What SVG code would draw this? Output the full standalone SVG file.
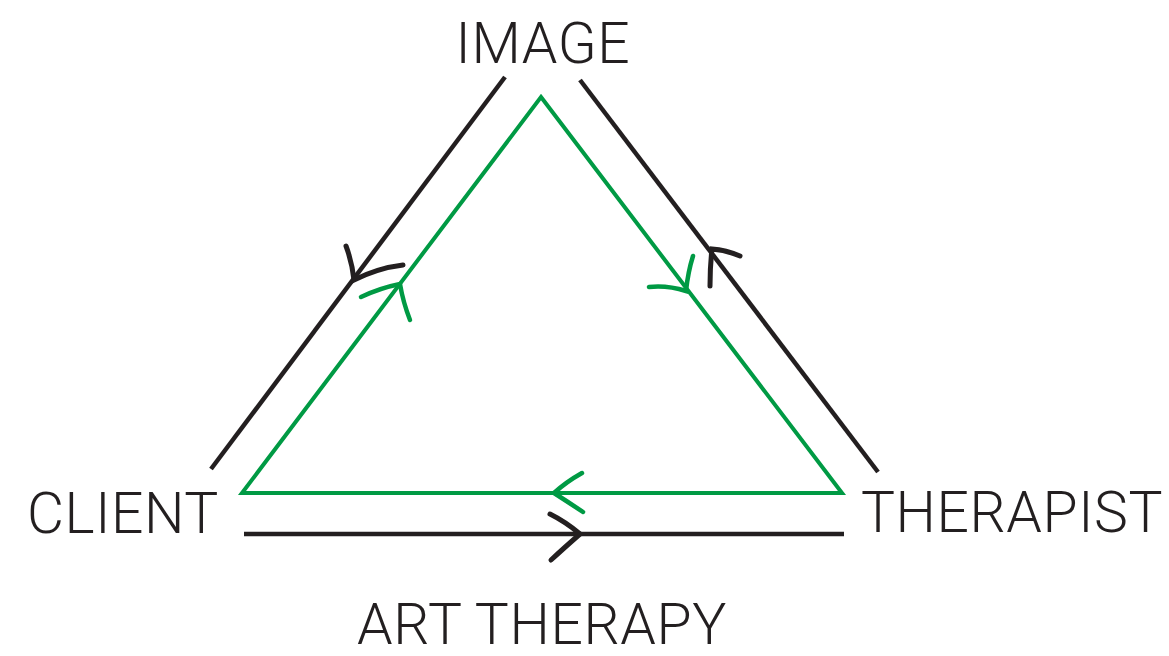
<svg xmlns="http://www.w3.org/2000/svg" width="1169" height="656" viewBox="0 0 1169 656">
<style>
.lbl{font-family:Roboto,"Liberation Sans",sans-serif;font-weight:300;font-size:57px;letter-spacing:0.6px;fill:#231f20;text-anchor:middle}
.blk{stroke:#231f20;stroke-width:4.5;fill:none;stroke-linecap:butt}
.grn{stroke:#009a44;stroke-width:4;fill:none;stroke-linejoin:miter}
.bh{stroke:#231f20;stroke-width:5;fill:none;stroke-linecap:round}
.gh{stroke:#009a44;stroke-width:4.5;fill:none;stroke-linecap:round}
</style>
<rect width="1169" height="656" fill="#ffffff"/>
<g id="image"><text class="lbl" x="543" y="63">IMAGE</text></g>
<g id="client"><text class="lbl" x="123" y="533">CLIENT</text></g>
<g id="therapist"><text class="lbl" x="1012" y="532">THERAPIST</text></g>
<g id="art-therapy"><text class="lbl" x="542" y="644">ART THERAPY</text></g>
<g id="connectors">
<line class="blk" x1="211" y1="469" x2="505" y2="77"/>
<line class="blk" x1="580" y1="80" x2="878" y2="472"/>
<line class="blk" x1="244" y1="534" x2="844" y2="534"/>
<path class="grn" d="M541 97 L842 493 L242 493 Z"/>
<path class="bh" d="M346 246 Q352 262 354 280 Q378 268 403 265"/>
<path class="bh" d="M710 286 Q710 266 712 249 Q726 250 740 256"/>
<path class="bh" d="M550 514 Q566 522 580 534 Q564 548 551 560"/>
<path class="gh" d="M361 297 Q380 288 400 284 Q403 302 410 320"/>
<path class="gh" d="M693 256 Q688 272 686 291 Q667 285 649 287"/>
<path class="gh" d="M582 473 Q566 482 554 493 Q568 502 583 512"/>
</g>
</svg>
